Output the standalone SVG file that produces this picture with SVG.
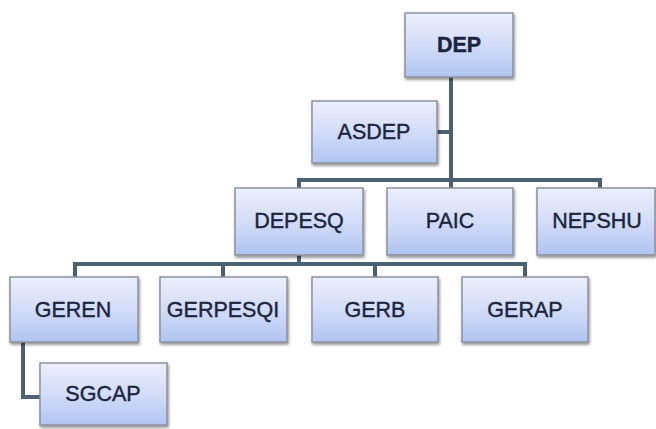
<svg xmlns="http://www.w3.org/2000/svg" width="656" height="429" viewBox="0 0 656 429">
<defs>
<linearGradient id="g" x1="0" y1="0" x2="0" y2="1">
<stop offset="0" stop-color="#eceffc"/>
<stop offset="0.5" stop-color="#d3dcf8"/>
<stop offset="1" stop-color="#afc4f1"/>
</linearGradient>
<filter id="sh" x="-10%" y="-10%" width="125%" height="130%">
<feGaussianBlur in="SourceAlpha" stdDeviation="1.5"/>
<feOffset dx="1" dy="2"/>
<feComponentTransfer><feFuncA type="linear" slope="0.45"/></feComponentTransfer>
<feMerge><feMergeNode/><feMergeNode in="SourceGraphic"/></feMerge>
</filter>
</defs>
<style>
.b{fill:url(#g);stroke:#8d919c;stroke-width:1.5;filter:url(#sh)}
.t{font-family:"Liberation Sans",Arial,sans-serif;font-size:21.5px;fill:#1b2540;stroke:#1b2540;stroke-width:0.4;text-anchor:middle;dominant-baseline:central}
.c{fill:none;stroke:#4b6070;stroke-width:4}
</style>
<rect width="656" height="429" fill="#ffffff"/>
<g id="connectors">
<path class="c" d="M451 77V180"/>
<path class="c" d="M437 132H451"/>
<path class="c" d="M299 188V180H600V188M451 180V188"/>
<path class="c" d="M299 255V264"/>
<path class="c" d="M75 277V264H525V277M223 264V277M375 264V277"/>
<path class="c" d="M23 342V397H40"/>
</g>
<g id="DEP"><rect class="b" x="405" y="13" width="108" height="64"/><text class="t" x="459" y="45" font-weight="bold">DEP</text></g>
<g id="ASDEP"><rect class="b" x="312" y="101" width="125" height="62"/><text class="t" x="374" y="132">ASDEP</text></g>
<g id="DEPESQ"><rect class="b" x="235" y="188" width="128" height="67"/><text class="t" x="299" y="221">DEPESQ</text></g>
<g id="PAIC"><rect class="b" x="387" y="188" width="126" height="67"/><text class="t" x="450" y="221">PAIC</text></g>
<g id="NEPSHU"><rect class="b" x="537" y="188" width="118" height="67"/><text class="t" x="597" y="221">NEPSHU</text></g>
<g id="GEREN"><rect class="b" x="10" y="277" width="128" height="65"/><text class="t" x="73" y="310">GEREN</text></g>
<g id="GERPESQI"><rect class="b" x="160" y="277" width="127" height="65"/><text class="t" x="223" y="310">GERPESQI</text></g>
<g id="GERB"><rect class="b" x="312" y="277" width="126" height="65"/><text class="t" x="375" y="310">GERB</text></g>
<g id="GERAP"><rect class="b" x="462" y="277" width="126" height="65"/><text class="t" x="525" y="310">GERAP</text></g>
<g id="SGCAP"><rect class="b" x="40" y="363" width="127" height="62"/><text class="t" x="103" y="394">SGCAP</text></g>
</svg>
